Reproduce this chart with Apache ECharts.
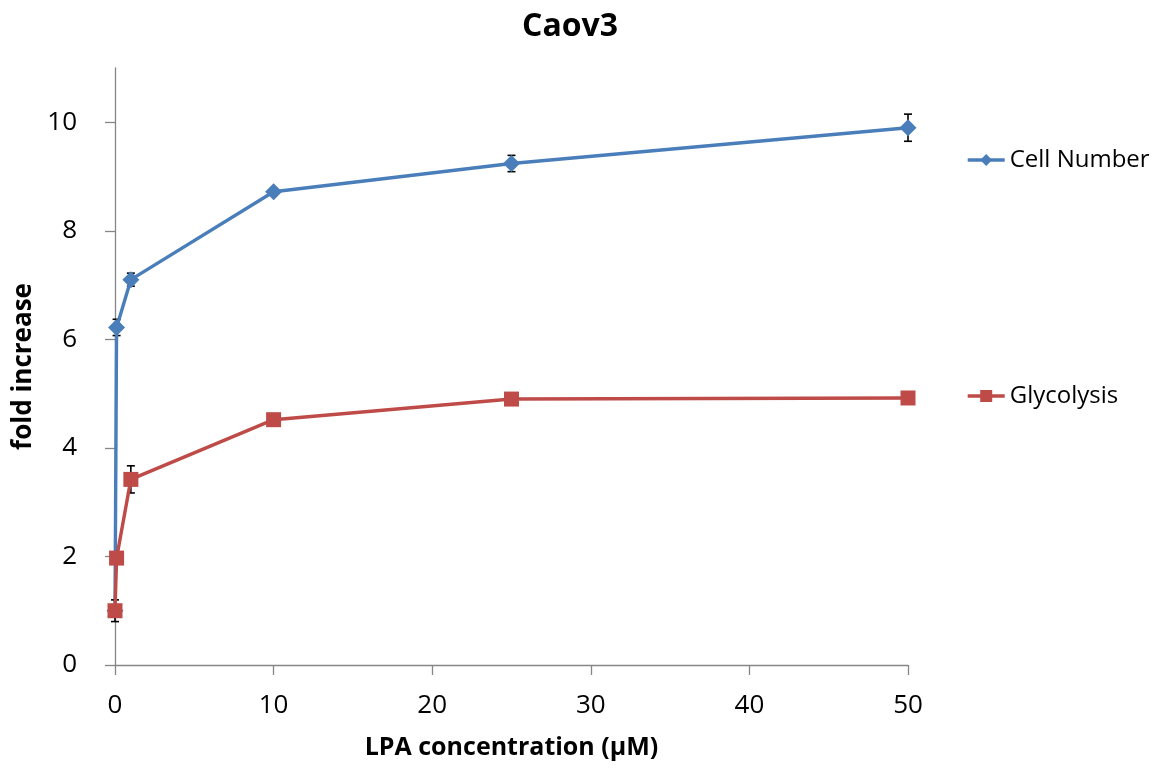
<!DOCTYPE html>
<html>
<head>
<meta charset="utf-8">
<script src="https://cdn.jsdelivr.net/npm/echarts@6/dist/echarts.min.js"></script>
<style>
  html, body { margin: 0; padding: 0; background: #fff; }
  #chart { width: 1173px; height: 771px; }
</style>
</head>
<body>
<div id="chart"></div>
<script>
// LPA concentration (µM) for each measurement
const concentrations = [0, 0.1, 1, 10, 25, 50];
// Fold increase, mean values
const cellNumber = [1.0, 6.22, 7.1, 8.72, 9.24, 9.9];
const glycolysis = [1.0, 1.97, 3.42, 4.52, 4.9, 4.92];
// Standard deviation for each mean
const cellNumberErr = [0, 0.15, 0.12, 0.05, 0.15, 0.25];
const glycolysisErr = [0.2, 0.05, 0.25, 0.1, 0.05, 0.05];
// Axis tick values
const xTicks = [0, 10, 20, 30, 40, 50];
const yTicks = [0, 2, 4, 6, 8, 10];

const FONT = 'Open Sans';
const BLUE = '#4a7ebb';
const RED = '#be4b48';

function pairs(xs, ys) { return xs.map((x, i) => [x, ys[i]]); }
function errTriples(xs, ys, es) { return xs.map((x, i) => [x, ys[i], es[i]]); }

// Vertical whisker with short caps at mean ± error
function errorBarRender(params, api) {
  const x = api.value(0), y = api.value(1), e = api.value(2);
  if (!e) return null;
  const top = api.coord([x, y + e]);
  const bot = api.coord([x, y - e]);
  const half = 4;
  const style = { stroke: '#000', lineWidth: 1.6 };
  return {
    type: 'group',
    children: [
      { type: 'line', shape: { x1: top[0], y1: top[1], x2: bot[0], y2: bot[1] }, style },
      { type: 'line', shape: { x1: top[0] - half, y1: top[1], x2: top[0] + half, y2: top[1] }, style },
      { type: 'line', shape: { x1: bot[0] - half, y1: bot[1], x2: bot[0] + half, y2: bot[1] }, style }
    ]
  };
}

const chart = echarts.init(document.getElementById('chart'));
chart.setOption({
  backgroundColor: '#fff',
  animation: false,
  title: {
    text: 'Caov3',
    left: 565,
    top: 6,
    textAlign: 'center',
    textStyle: { fontFamily: FONT, fontSize: 32, fontWeight: 'bold', color: '#000' }
  },
  legend: {
    orient: 'vertical',
    left: 961,
    top: 143,
    itemGap: 212,
    itemWidth: 37,
    itemHeight: 15,
    lineStyle: { width: 3.4 },
    data: ['Cell Number', 'Glycolysis'],
    textStyle: { fontFamily: FONT, fontSize: 24, color: '#000' }
  },
  grid: { left: 115, right: 265, top: 68, bottom: 106, containLabel: false },
  xAxis: {
    type: 'value',
    min: 0,
    max: 50,
    interval: 10,
    name: 'LPA concentration (\u00b5M)',
    nameLocation: 'middle',
    nameGap: 70,
    nameTextStyle: { fontFamily: FONT, fontSize: 25, fontWeight: 'bold', color: '#000' },
    axisLine: { lineStyle: { color: '#868686', width: 1.3 } },
    axisTick: { show: true, length: 10, customValues: xTicks, lineStyle: { color: '#868686', width: 1.3 } },
    axisLabel: { customValues: xTicks, margin: 28, fontFamily: FONT, fontSize: 26, color: '#000' },
    splitLine: { show: false }
  },
  yAxis: {
    type: 'value',
    min: 0,
    max: 11,
    interval: 2,
    name: 'fold increase',
    nameLocation: 'middle',
    nameGap: 74,
    nameRotate: 90,
    nameTextStyle: { fontFamily: FONT, fontSize: 26, fontWeight: 'bold', color: '#000' },
    axisLine: { show: true, lineStyle: { color: '#868686', width: 1.3 } },
    axisTick: { show: true, length: 10, customValues: yTicks, lineStyle: { color: '#868686', width: 1.3 } },
    axisLabel: { customValues: yTicks, margin: 38, fontFamily: FONT, fontSize: 26, color: '#000' },
    splitLine: { show: false }
  },
  series: [
    {
      name: 'Cell Number err',
      type: 'custom',
      renderItem: errorBarRender,
      data: errTriples(concentrations, cellNumber, cellNumberErr),
      z: 1,
      silent: true
    },
    {
      name: 'Cell Number',
      type: 'line',
      data: pairs(concentrations, cellNumber),
      symbol: 'diamond',
      symbolSize: 17,
      lineStyle: { color: BLUE, width: 3.4 },
      itemStyle: { color: BLUE, borderWidth: 0 },
      z: 2
    },
    {
      name: 'Glycolysis err',
      type: 'custom',
      renderItem: errorBarRender,
      data: errTriples(concentrations, glycolysis, glycolysisErr),
      z: 3,
      silent: true
    },
    {
      name: 'Glycolysis',
      type: 'line',
      data: pairs(concentrations, glycolysis),
      symbol: 'rect',
      symbolSize: 15,
      lineStyle: { color: RED, width: 3.4 },
      itemStyle: { color: RED, borderWidth: 0 },
      z: 4
    }
  ]
});
</script>
</body>
</html>
